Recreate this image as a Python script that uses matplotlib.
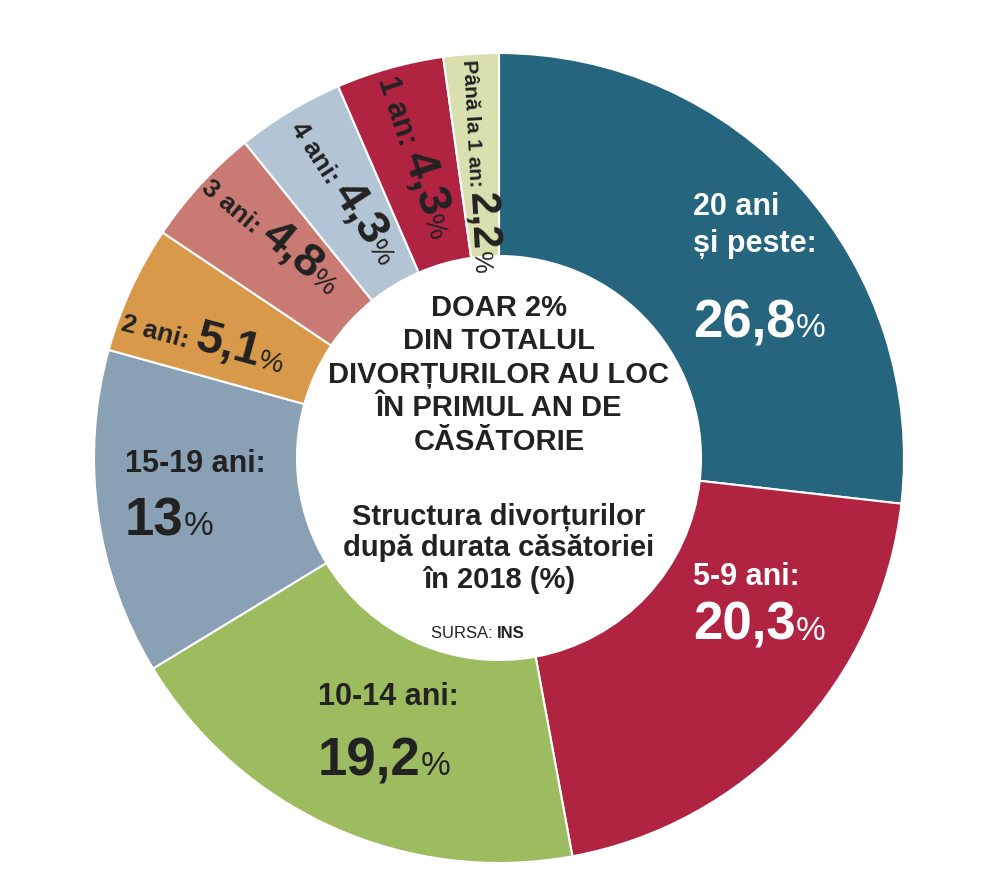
import matplotlib
matplotlib.use("Agg")
import math
import matplotlib.pyplot as plt

plt.rcParams['font.family'] = ['Liberation Sans Narrow', 'Liberation Sans', 'DejaVu Sans']

categories = ["20 ani și peste", "5-9 ani", "10-14 ani", "15-19 ani", "2 ani",
              "3 ani", "4 ani", "1 an", "Până la 1 an"]
values = [26.8, 20.3, 19.2, 13, 5.1, 4.8, 4.3, 4.3, 2.2]
value_labels = ["26,8", "20,3", "19,2", "13", "5,1", "4,8", "4,3", "4,3", "2,2"]
colors = ["#25667e", "#b02442", "#9dbb5f", "#8aa0b5", "#d9994a",
          "#c97a73", "#b3c5d5", "#b02442", "#d9dfae"]

W, H = 1001, 872
fig = plt.figure(figsize=(W / 100, H / 100), dpi=100)
ax = fig.add_axes([0, 0, 1, 1])

cx, cy, R = 499, 872 - 458, 405
ax.pie(values, colors=colors, startangle=90, counterclock=False,
       center=(cx, cy), radius=R,
       wedgeprops=dict(width=R - 202, edgecolor='white', linewidth=1.5))
# pie() resets the limits, so set pixel coordinates afterwards
ax.set_xlim(0, W)
ax.set_ylim(0, H)
ax.set_aspect('equal')
ax.axis('off')

fig.canvas.draw()
renderer = fig.canvas.get_renderer()


def pieces(x, y, parts, rot=0, color='#222222'):
    """Draw text pieces one after another along a rotated baseline."""
    a = math.radians(rot)
    for txt, size, weight in parts:
        t = ax.text(x, y, txt, fontsize=size, fontweight=weight, ha='left',
                    va='baseline', rotation=0, rotation_mode='anchor', color=color)
        w = t.get_window_extent(renderer).width
        t.set_rotation(rot)
        x += w * math.cos(a)
        y += w * math.sin(a)


# small slices, rotated labels (positions in pixel coords, y up)
pieces(463, 872 - 60, [("Până la 1 an: ", 15, 'bold'), (value_labels[8], 30, 'bold'), ("%", 18, 'normal')], rot=-87)
pieces(378, 872 - 80, [("1 an: ", 22, 'bold'), (value_labels[7], 34, 'bold'), ("%", 20, 'normal')], rot=-72)
pieces(290, 872 - 128, [("4 ani: ", 19, 'bold'), (value_labels[6], 34, 'bold'), ("%", 20, 'normal')], rot=-57)
pieces(200, 872 - 190, [("3 ani: ", 19, 'bold'), (value_labels[5], 34, 'bold'), ("%", 20, 'normal')], rot=-40)
pieces(120, 872 - 330, [("2 ani: ", 19, 'bold'), (value_labels[4], 34, 'bold'), ("%", 20, 'normal')], rot=-15)

# large slices
ax.text(693, 872 - 252, "20 ani\nși peste:", fontsize=22, fontweight='bold', color='white',
        va='baseline', linespacing=1.3)
pieces(693, 872 - 337, [(value_labels[0], 38, 'bold'), ("%", 24, 'normal')], color='white')
for i, x, y1, y2, col in [(1, 693, 585, 640, 'white'), (2, 318, 705, 775, '#222222'),
                          (3, 125, 472, 535, '#222222')]:
    ax.text(x, 872 - y1, categories[i] + ":", fontsize=22, fontweight='bold', color=col, va='baseline')
    pieces(x, 872 - y2, [(value_labels[i], 38, 'bold'), ("%", 24, 'normal')], color=col)

# center text
ax.text(cx, 872 - 375, "DOAR 2%\nDIN TOTALUL\nDIVORȚURILOR AU LOC\nÎN PRIMUL AN DE\nCĂSĂTORIE",
        ha='center', va='center', fontsize=21, fontweight='bold', color='#222222', linespacing=1.25)
ax.text(cx, 872 - 548, "Structura divorțurilor\ndupă durata căsătoriei\nîn 2018 (%)",
        ha='center', va='center', fontsize=21, fontweight='bold', color='#222222', linespacing=1.15)
ax.text(cx - 2, 872 - 633, "SURSA: ", ha='right', va='center', fontsize=12, color='#222222')
ax.text(cx - 2, 872 - 633, "INS", ha='left', va='center', fontsize=12, fontweight='bold', color='#222222')

fig.savefig("out.png", dpi=100, facecolor='white')
